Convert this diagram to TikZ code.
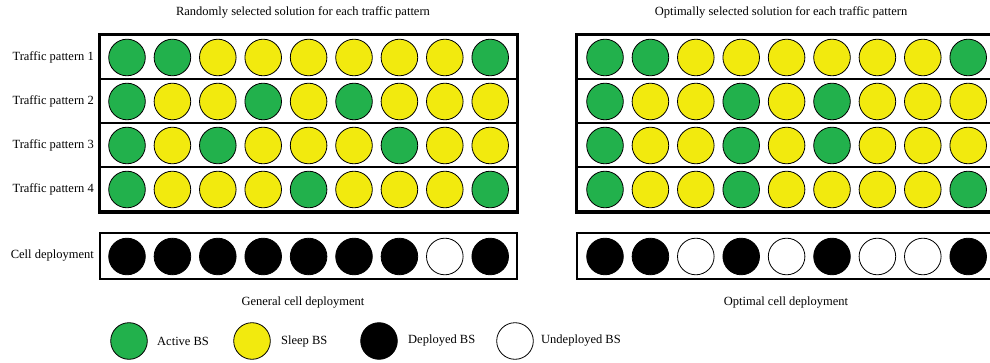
\documentclass[tikz,border=0pt]{standalone}
\usepackage{fontspec}
\setmainfont{Liberation Serif}
\usetikzlibrary{positioning, fit, calc}
\definecolor{bsA}{RGB}{34,177,76}
\definecolor{bsS}{RGB}{242,234,14}
\definecolor{bsD}{RGB}{0,0,0}
\definecolor{bsU}{RGB}{255,255,255}

\begin{document}
\begin{tikzpicture}[x=1pt, y=-1pt,
    bs/.style={circle, draw=black, line width=0.8pt, minimum size=36.6pt, inner sep=0pt},
    row/.style={draw=black, line width=2pt, minimum width=417pt, minimum height=44pt, inner sep=0pt},
    frame/.style={draw=black, line width=2.6pt, inner sep=0pt},
    lbl/.style={font=\fontsize{12.5}{14}\selectfont, inner sep=0pt}]
    \clip (0,0) rectangle (990,363);
    % Titel
    \node[lbl] (ttlL) at (303,12) {Randomly selected solution for each traffic pattern};
    \node[lbl] (ttlR) at (781,12) {Optimally selected solution for each traffic pattern};
    % Zeilen (Rahmen)
    \foreach \r in {1,...,4} {
      \node[row] (L\r) at (308.5,{57.5+(\r-1)*44}) {};
      \node[row] (R\r) at (785.5,{57.5+(\r-1)*44}) {};
      \node[lbl, anchor=east] (tp\r) at (94,{57.5+(\r-1)*44}) {Traffic pattern \r};
    }
    \node[frame, fit=(L1)(L4)] (Lbox) {};
    \node[frame, fit=(R1)(R4)] (Rbox) {};
    \node[row, minimum height=46pt, line width=2.4pt] (Lcell) at (308.5,256) {};
    \node[row, minimum height=46pt, line width=2.4pt] (Rcell) at (785.5,256) {};
    \node[lbl, anchor=east] (cdl) at (94,256) {Cell deployment};
    % Zufaellige Auswahl
    \foreach \r/\pat in {1/{A,A,S,S,S,S,S,S,A}, 2/{A,S,S,A,S,A,S,S,S},
                         3/{A,S,A,S,S,S,A,S,S}, 4/{A,S,S,S,A,S,S,S,A}}
      \foreach \c [count=\i] in \pat
        \node[bs, fill=bs\c] (L\r-\i) at ({127+(\i-1)*45.4},{57.5+(\r-1)*44}) {};
    % Optimale Auswahl
    \foreach \r/\pat in {1/{A,A,S,S,S,S,S,S,A}, 2/{A,S,S,A,S,A,S,S,S},
                         3/{A,S,S,A,S,A,S,S,S}, 4/{A,S,S,A,S,S,S,S,A}}
      \foreach \c [count=\i] in \pat
        \node[bs, fill=bs\c] (R\r-\i) at ({605+(\i-1)*45.4},{57.5+(\r-1)*44}) {};
    % Zellen
    \foreach \c [count=\i] in {D,D,D,D,D,D,D,U,D}
      \node[bs, fill=bs\c] (Lc-\i) at ({127+(\i-1)*45.4},256.5) {};
    \foreach \c [count=\i] in {D,D,U,D,U,D,U,U,D}
      \node[bs, fill=bs\c] (Rc-\i) at ({605+(\i-1)*45.4},256.5) {};
    \node[lbl] (capL) at (303,303) {General cell deployment};
    \node[lbl] (capR) at (786,303) {Optimal cell deployment};
    % Legende
    \node[bs, fill=bsA] (legA) at (129,341) {};
    \node[lbl, anchor=west] (txtA) at (157,341) {Active BS};
    \node[bs, fill=bsS] (legS) at (252,341) {};
    \node[lbl, anchor=west] (txtS) at (281,341) {Sleep BS};
    \node[bs, fill=bsD] (legD) at (379,341) {};
    \node[lbl, anchor=west] (txtD) at (408,341) {Deployed BS};
    \node[bs, fill=bsU] (legU) at (515,341) {};
    \node[lbl, anchor=west] (txtU) at (541,341) {Undeployed BS};
\end{tikzpicture}
\end{document}
